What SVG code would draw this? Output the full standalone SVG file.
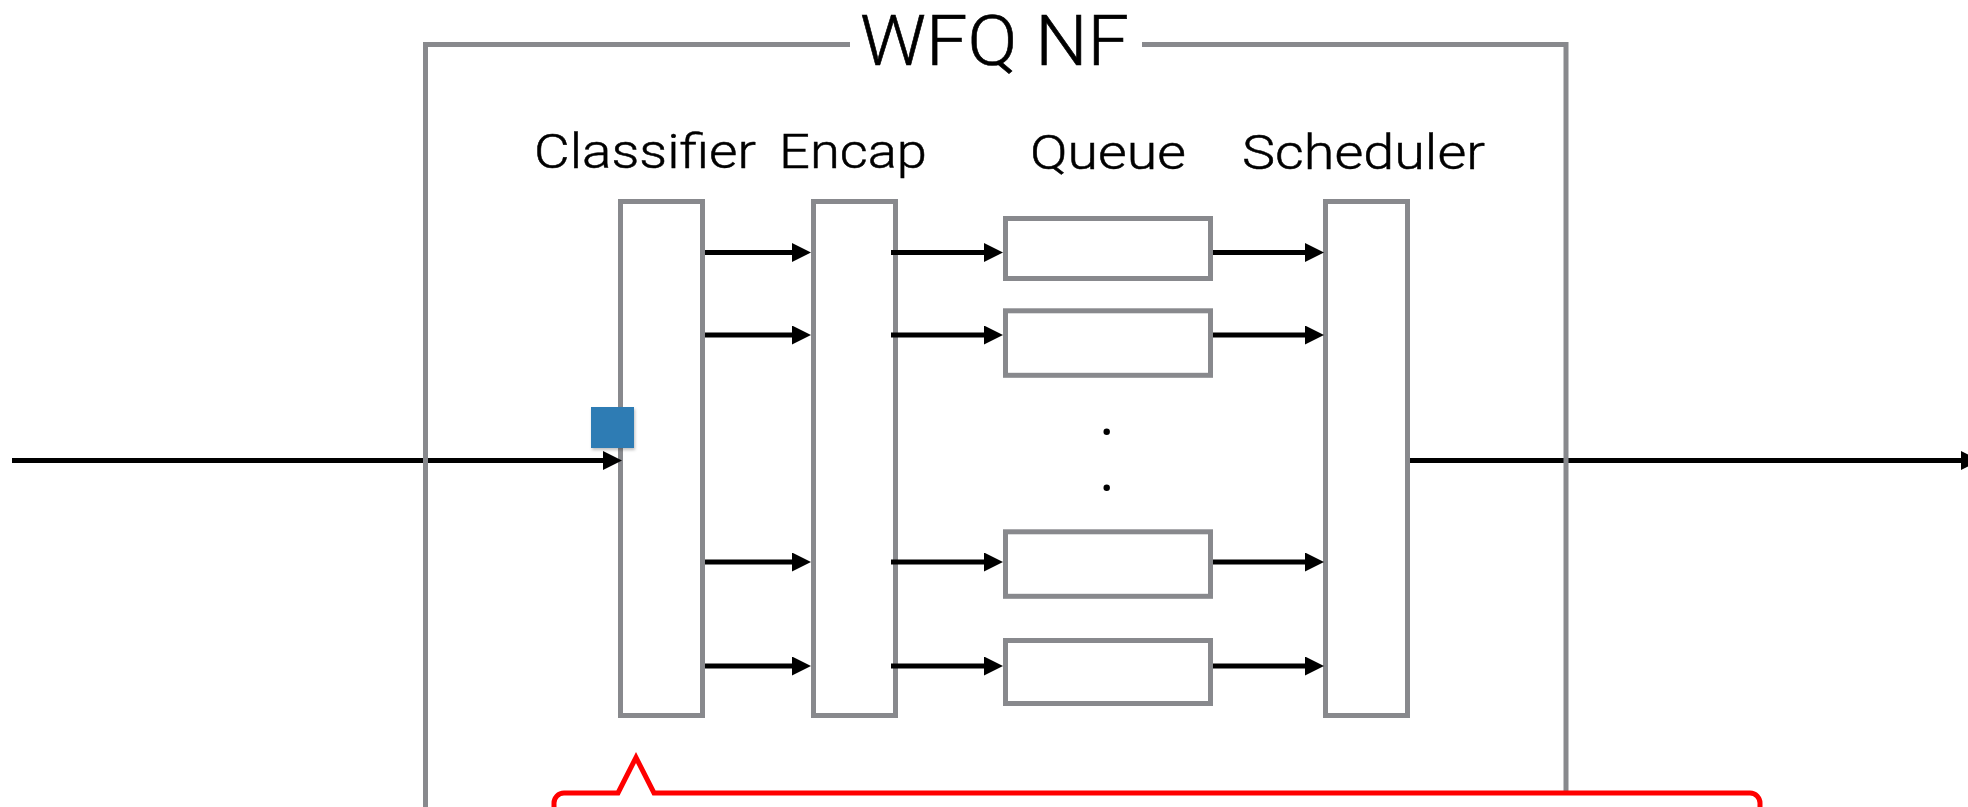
<svg xmlns="http://www.w3.org/2000/svg" width="1968" height="807" viewBox="0 0 1968 807">
  <style>
    .box { fill: #ffffff; stroke: #88898d; stroke-width: 5; }
    .frame { fill: none; stroke: #88898d; stroke-width: 5; }
    .wire { fill: none; stroke: #000000; stroke-width: 5; marker-end: url(#head); }
    .label { font-family: Roboto, "Liberation Sans", Arial, sans-serif; font-weight: 300; font-size: 49px; fill: #000000; stroke: #000000; stroke-width: 0.5px; }
    .title { font-family: Roboto, "Liberation Sans", Arial, sans-serif; font-weight: 300; font-size: 71px; fill: #000000; stroke: #000000; stroke-width: 0.6px; }
    .callout { fill: #ffffff; stroke: #ff0000; stroke-width: 5; stroke-linejoin: miter; }
  </style>
  <defs>
    <marker id="head" markerUnits="userSpaceOnUse" markerWidth="20" markerHeight="20" refX="2" refY="9.5" orient="auto">
      <path d="M0,0 L19,9.5 L0,19 Z" fill="#000000"/>
    </marker>
    <filter id="soft" x="-20%" y="-20%" width="150%" height="150%">
      <feDropShadow dx="1" dy="2" stdDeviation="1.5" flood-color="#000000" flood-opacity="0.25"/>
    </filter>
  </defs>

  <rect width="1968" height="807" fill="#ffffff"/>

  <g id="classifier">
    <text class="label" x="534" y="168" textLength="222" lengthAdjust="spacingAndGlyphs">Classifier</text>
    <rect class="box" x="620.5" y="201.5" width="82" height="514"/>
  </g>

  <g id="encap">
    <text class="label" x="779" y="168" textLength="148" lengthAdjust="spacingAndGlyphs">Encap</text>
    <rect class="box" x="813.5" y="201.5" width="82" height="514"/>
  </g>

  <g id="queue">
    <text class="label" x="1030" y="169" textLength="156" lengthAdjust="spacingAndGlyphs">Queue</text>
  </g>
  <g id="queue-1"><rect class="box" x="1005.5" y="218.5" width="205" height="60"/></g>
  <g id="queue-2"><rect class="box" x="1005.5" y="310.8" width="205" height="64.5"/></g>
  <g id="queue-dots">
    <circle cx="1106.7" cy="431.7" r="3.2" fill="#000000"/>
    <circle cx="1106.7" cy="487.7" r="3.2" fill="#000000"/>
  </g>
  <g id="queue-3"><rect class="box" x="1005.5" y="531.8" width="205" height="64.5"/></g>
  <g id="queue-4"><rect class="box" x="1005.5" y="640.5" width="205" height="63"/></g>

  <g id="scheduler">
    <text class="label" x="1242" y="169" textLength="243" lengthAdjust="spacingAndGlyphs">Scheduler</text>
    <rect class="box" x="1325.5" y="201.5" width="82" height="514"/>
  </g>

  <!-- connectors -->
  <g id="connectors">
    <line class="wire" x1="12" y1="460.5" x2="605" y2="460.5"/>
    <line class="wire" x1="705" y1="252.5" x2="794" y2="252.5"/>
    <line class="wire" x1="705" y1="335" x2="794" y2="335"/>
    <line class="wire" x1="705" y1="562" x2="794" y2="562"/>
    <line class="wire" x1="705" y1="666" x2="794" y2="666"/>
    <line class="wire" x1="891" y1="252.5" x2="986" y2="252.5"/>
    <line class="wire" x1="891" y1="335" x2="986" y2="335"/>
    <line class="wire" x1="891" y1="562" x2="986" y2="562"/>
    <line class="wire" x1="891" y1="666" x2="986" y2="666"/>
    <line class="wire" x1="1213" y1="252.5" x2="1307" y2="252.5"/>
    <line class="wire" x1="1213" y1="335" x2="1307" y2="335"/>
    <line class="wire" x1="1213" y1="562" x2="1307" y2="562"/>
    <line class="wire" x1="1213" y1="666" x2="1307" y2="666"/>
    <line class="wire" x1="1410" y1="460.5" x2="1963" y2="460.5"/>
  </g>

  <!-- network function frame with its title -->
  <g id="wfq-nf">
    <path class="frame" d="M850,44.5 H425.5 V812"/>
    <path class="frame" d="M1142,44.5 H1566 V812"/>
    <text class="title" x="860" y="65" textLength="269" lengthAdjust="spacingAndGlyphs">WFQ NF</text>
  </g>

  <!-- packet entering the classifier -->
  <g id="packet">
    <rect x="591" y="407" width="43" height="41" fill="#2f7cb4" filter="url(#soft)"/>
  </g>

  <!-- callout pointing at the classifier -->
  <g id="callout">
    <path class="callout" d="M554,815 V803 A10,10 0 0 1 564,793 H618 L636,757.5 L654,793 H1750 A10,10 0 0 1 1760,803 V815 Z"/>
  </g>
</svg>
